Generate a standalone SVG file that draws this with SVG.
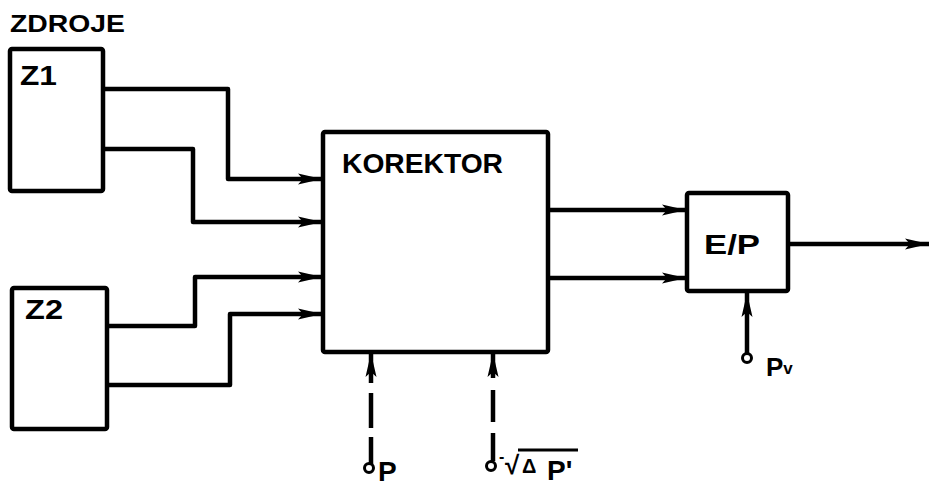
<svg xmlns="http://www.w3.org/2000/svg" width="931" height="486" viewBox="0 0 931 486">
<defs>
<style>
.box{fill:#fff;stroke:#000;stroke-width:4.5;stroke-linejoin:round}
.ln{fill:none;stroke:#000;stroke-width:4.5;stroke-linejoin:round}
.arr{marker-end:url(#ah)}
.term{fill:#fff;stroke:#000;stroke-width:3}
.t{font-family:"Liberation Sans",Arial,sans-serif;font-weight:bold;fill:#000}
</style>
<marker id="ah" viewBox="0 0 24 12" refX="24" refY="6" markerWidth="24" markerHeight="12" markerUnits="userSpaceOnUse" orient="auto">
<path d="M0,0.5 L24,6 L0,11.5 L5,6 z" fill="#000"/>
</marker>
</defs>
<rect width="931" height="486" fill="#fff"/>
<text class="t" x="10" y="32" font-size="23" textLength="115" lengthAdjust="spacingAndGlyphs">ZDROJE</text>
<g id="connectors">
<polyline class="ln arr" points="103,89 228,89 228,179 322,179"/>
<polyline class="ln arr" points="103,149 193,149 193,222 322,222"/>
<polyline class="ln arr" points="107,326 195,326 195,277 322,277"/>
<polyline class="ln arr" points="107,385 230,385 230,314 322,314"/>
<line class="ln arr" x1="548" y1="210" x2="686" y2="210"/>
<line class="ln arr" x1="548" y1="278" x2="686" y2="278"/>
<line class="ln arr" x1="788" y1="244" x2="929" y2="244"/>
<line class="ln arr" x1="747" y1="353" x2="747" y2="293"/>
<line class="ln arr" x1="371" y1="383" x2="371" y2="353"/>
<line class="ln" x1="371" y1="393" x2="371" y2="428"/>
<line class="ln" x1="371" y1="437" x2="371" y2="464"/>
<line class="ln arr" x1="493" y1="378" x2="493" y2="353"/>
<line class="ln" x1="493" y1="390" x2="493" y2="422"/>
<line class="ln" x1="493" y1="433" x2="493" y2="461"/>
</g>
<g id="z1">
<rect class="box" x="10" y="49" width="93" height="142" rx="2"/>
<text class="t" x="20" y="85" font-size="28" textLength="37" lengthAdjust="spacingAndGlyphs">Z1</text>
</g>
<g id="z2">
<rect class="box" x="12" y="288" width="95" height="141" rx="2"/>
<text class="t" x="25" y="319" font-size="28" textLength="38" lengthAdjust="spacingAndGlyphs">Z2</text>
</g>
<g id="korektor">
<rect class="box" x="323" y="132" width="225" height="220" rx="2"/>
<text class="t" x="342" y="173" font-size="28" textLength="161" lengthAdjust="spacingAndGlyphs">KOREKTOR</text>
</g>
<g id="ep">
<rect class="box" x="687" y="193" width="101" height="98" rx="2"/>
<text class="t" x="704" y="254" font-size="28" textLength="56" lengthAdjust="spacingAndGlyphs">E/P</text>
</g>
<g id="input-pv">
<circle class="term" cx="747" cy="358" r="4.5"/>
<text class="t" x="766" y="376" font-size="26">P<tspan font-size="17" dy="-2">v</tspan></text>
</g>
<g id="input-p">
<circle class="term" cx="369" cy="468" r="4.5"/>
<text class="t" x="378" y="481" font-size="28">P</text>
</g>
<g id="input-dp">
<circle class="term" cx="491" cy="466" r="4.5"/>
<text class="t" x="499" y="462" font-size="16">-</text>
<text class="t" x="505" y="474" font-size="26" font-weight="normal">√</text>
<line x1="518" y1="450" x2="578" y2="450" stroke="#000" stroke-width="3"/>
<text class="t" x="522" y="473" font-size="20">Δ</text>
<text class="t" x="547" y="480" font-size="28">P'</text>
</g>
</svg>
